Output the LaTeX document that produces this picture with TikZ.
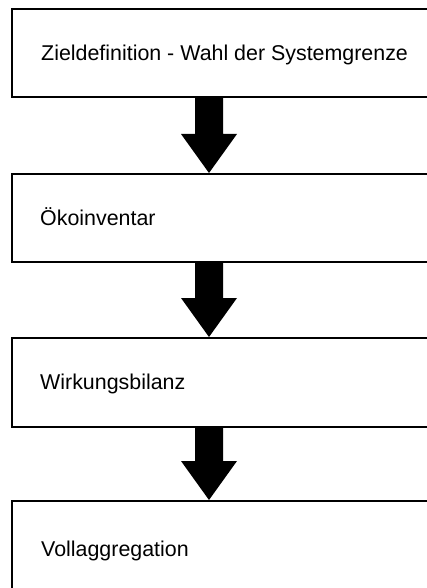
\documentclass[tikz,border=0pt]{standalone}
\usepackage{fontspec}
\setmainfont{Liberation Sans}
\usetikzlibrary{calc}
\begin{document}
\begin{tikzpicture}[x=1pt,y=-1pt,
  box/.style={draw=black, line width=1.6pt, fill=white, rectangle, inner sep=0pt,
    minimum width=429pt, anchor=north west},
  lbl/.style={anchor=west, inner sep=0pt, text height=15.3pt, text depth=0pt,
    font=\fontsize{21.4}{25}\selectfont},
  blockarrow/.style={fill=black}]
\clip (0,0) rectangle (427,588);
\fill[white] (0,0) rectangle (427,588);
\coordinate (ax) at (209,0);
\node[box, minimum height=88pt] (b1) at (11,8) {};
\node[box, minimum height=88pt] (b2) at (11,173) {};
\node[box, minimum height=89pt] (b3) at (11,337) {};
\node[box, minimum height=96pt] (b4) at (11,500) {};
\node[lbl] (t1) at ($(b1.west)+(30,0)$) {Zieldefinition - Wahl der Systemgrenze};
\node[lbl] (t2) at ($(b2.west)+(29,0)$) {Ökoinventar};
\node[lbl] (t3) at ($(b3.west)+(29,0)$) {Wirkungsbilanz};
\node[lbl] (t4) at ($(b4.west)+(30,0)$) {Vollaggregation};
\foreach \a/\b in {b1/b2,b2/b3,b3/b4}{
  \fill[blockarrow] let \p1=(ax |- \a.south), \p2=(ax |- \b.north) in
    (\x1-14pt,\y1) -- (\x1+14pt,\y1) -- (\x1+14pt,\y2+39pt) -- (\x1+28pt,\y2+39pt)
    -- (\x1,\y2) -- (\x1-28pt,\y2+39pt) -- (\x1-14pt,\y2+39pt) -- cycle;
}
\end{tikzpicture}
\end{document}
